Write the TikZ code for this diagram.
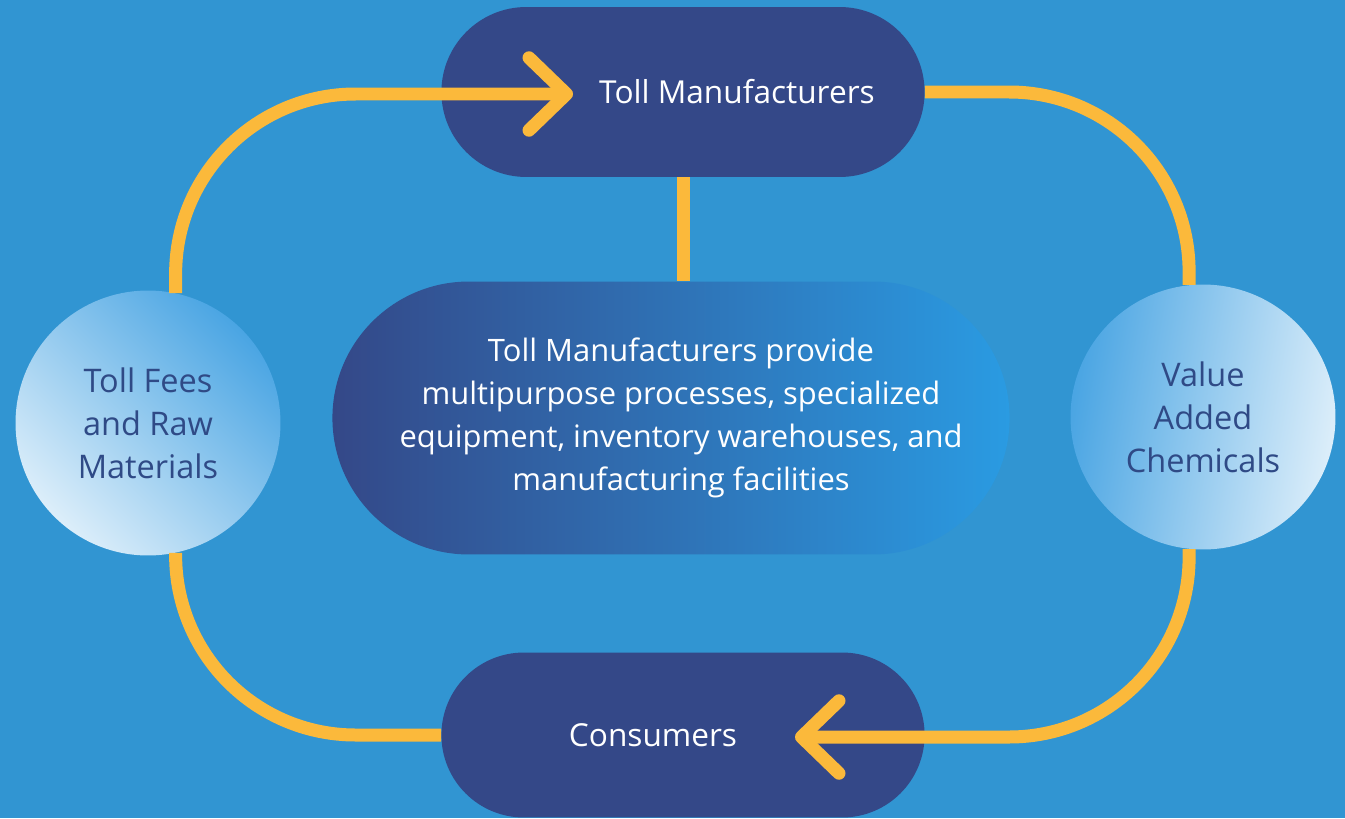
\documentclass[tikz,border=0pt]{standalone}
\usepackage{fontspec}
\setmainfont{Open Sans}
\usetikzlibrary{shapes.misc,arrows.meta}

\definecolor{fundo}{HTML}{3195D2}
\definecolor{marinho}{HTML}{344888}
\definecolor{amarelo}{HTML}{FBB93B}
\definecolor{bolaclara}{HTML}{DCEEFA}
\definecolor{bolaescura}{HTML}{4AA5E3}
\definecolor{textobola}{HTML}{2F4A86}
\definecolor{centroclaro}{HTML}{2A9BE2}

\begin{document}
\begin{tikzpicture}[x=0.02cm,y=-0.02cm,
    pill/.style={rounded rectangle, fill=marinho, text=white, minimum width=9.9cm,
      font=\fontsize{18}{22}\selectfont},
    ball/.style={circle, minimum size=5.3cm, inner sep=0pt, align=center, text=textobola,
      font=\fontsize{18.5}{24.4}\selectfont},
    loop/.style={draw=amarelo, line width=0.26cm, rounded corners=3.6cm},
    head/.style={-{Straight Barb[length=0.75cm,width=1.45cm,round]}}]
  \useasboundingbox (0,0) rectangle (1345,818);
  \fill[fundo] (0,0) rectangle (1345,818);

  % pills
  \node[pill, minimum height=3.4cm] (toll) at (683,92) {\hspace*{2.16cm}Toll Manufacturers};
  \node[pill, minimum height=3.3cm] (cons) at (683,735) {Consumers\hspace*{1.2cm}};
  \node[rounded rectangle, minimum width=13.78cm, minimum height=5.46cm,
    left color=marinho, right color=centroclaro, text=white, align=center,
    font=\fontsize{17.6}{24.4}\selectfont] (core) at (671,418)
    {\hspace*{0.4cm}Toll Manufacturers provide\\ \hspace*{0.4cm}multipurpose processes, specialized\\
     \hspace*{0.4cm}equipment, inventory warehouses, and\\ \hspace*{0.4cm}manufacturing facilities};

  % circles
  \node[ball, left color=bolaclara, right color=bolaescura, shading angle=135] (fees) at (148,423)
    {Toll Fees\\ and Raw\\ Materials};
  \node[ball, left color=bolaescura, right color=bolaclara, shading angle=80] (value) at (1203,417)
    {Value\\ Added\\ Chemicals};

  % loop
  \coordinate (intip) at (573,94);
  \coordinate (outtip) at (795,737);
  \draw[loop, head] (fees.78) |- (intip);
  \draw[loop] (toll.east) -| (value.96);
  \draw[loop, head] (value.264) |- (outtip);
  \draw[loop] (fees.282) |- (cons.west);
  \draw[draw=amarelo, line width=0.26cm] (toll.south) -- (toll.south |- core.north);
\end{tikzpicture}
\end{document}
